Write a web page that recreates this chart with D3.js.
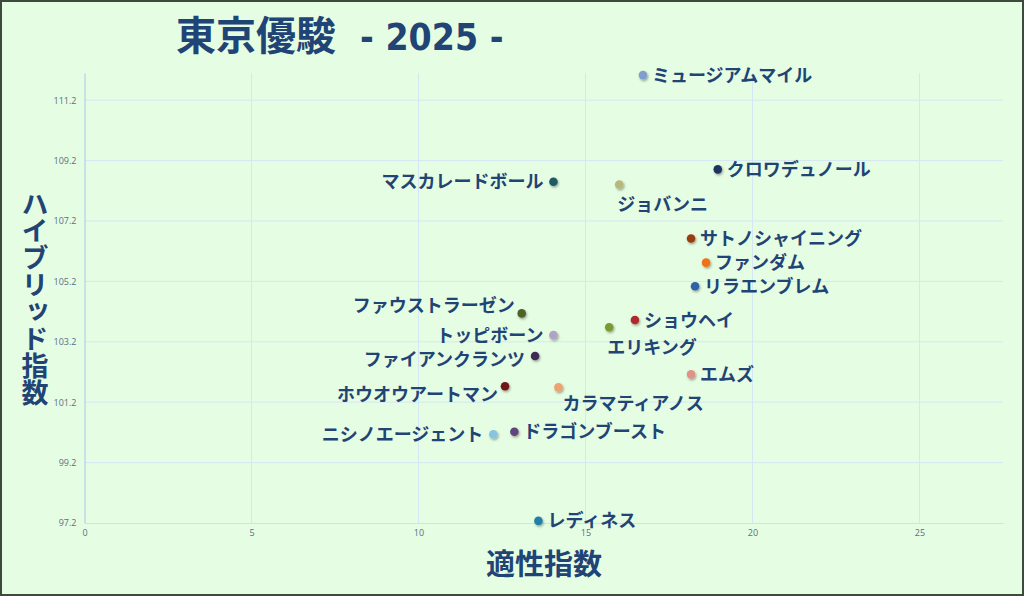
<!DOCTYPE html>
<html>
<head>
<meta charset="utf-8">
<script src="https://cdn.jsdelivr.net/npm/d3@7"></script>
<style>
  html, body { margin: 0; padding: 0; background: #e5fde2; }
  svg { display: block; }
</style>
</head>
<body>
<div id="chart-area"></div>
<script>
const canvas_width = 1024;
const canvas_height = 596;

// data
const horses = ['ミュージアムマイル', 'クロワデュノール', 'ジョバンニ', 'マスカレードボール',
  'サトノシャイニング', 'ファンダム', 'リラエンブレム', 'ショウヘイ', 'エリキング', 'エムズ',
  'ファウストラーゼン', 'トッピボーン', 'ファイアンクランツ', 'ホウオウアートマン',
  'カラマティアノス', 'ニシノエージェント', 'ドラゴンブースト', 'レディネス'];
const tekisei = [16.72, 18.96, 16.01, 14.04, 18.16, 18.61, 18.28, 16.48, 15.71, 18.16,
  13.09, 14.04, 13.49, 12.59, 14.19, 12.24, 12.87, 13.59];
const hybrid = [112.03, 108.91, 108.41, 108.50, 106.62, 105.82, 105.04, 103.92, 103.68, 102.12,
  104.14, 103.42, 102.73, 101.73, 101.69, 100.14, 100.22, 97.27];
const x_ticks = [0, 5, 10, 15, 20, 25];
const y_ticks = [97.2, 99.2, 101.2, 103.2, 105.2, 107.2, 109.2, 111.2];

// styling / label placement
const dot_colors = ['#7f9fcd', '#1f3560', '#b8b77c', '#1d5a66', '#9a3d0c', '#f07212', '#2f62a6',
  '#ae2a2c', '#7b9a33', '#e0918a', '#4f6226', '#b3a1c6', '#3e2a55', '#731717',
  '#eea26f', '#86c4e0', '#5f477c', '#2180a6'];
const label_place = ['right', 'right', 'below', 'left', 'right', 'right', 'right', 'right', 'below', 'right',
  'upleft', 'left', 'leftlow', 'downleft', 'downright', 'left', 'right', 'right'];

const margin = { left: 84.5, right: 21, top: 73, bottom: 73 };
const text_color = '#1f4475';

let canvas = d3.select('#chart-area').append('svg')
  .attr('width', canvas_width)
  .attr('height', canvas_height);

canvas.append('rect')
  .attr('x', 1).attr('y', 1)
  .attr('width', canvas_width - 2).attr('height', canvas_height - 2)
  .attr('fill', '#e5fde2')
  .attr('stroke', '#3f4a3f')
  .attr('stroke-width', 2);

let x = d3.scaleLinear().domain([0, 27.5]).range([margin.left, canvas_width - margin.right]);
let y = d3.scaleLinear().domain([97.2, 112.1]).range([canvas_height - margin.bottom, margin.top]);

let grid = canvas.append('g').attr('class', 'grid');
grid.selectAll('line.h').data(y_ticks.slice(1)).enter().append('line')
  .attr('x1', x(0)).attr('x2', x(27.5))
  .attr('y1', (d) => y(d)).attr('y2', (d) => y(d))
  .attr('stroke', '#d5e6f4').attr('stroke-width', 1);
grid.selectAll('line.v').data(x_ticks.slice(1)).enter().append('line')
  .attr('y1', y(97.2)).attr('y2', y(112.1))
  .attr('x1', (d) => x(d)).attr('x2', (d) => x(d))
  .attr('stroke', '#d5e6f4').attr('stroke-width', 1);

let bottomAxis = d3.axisBottom(x).tickValues(x_ticks).tickSize(0).tickPadding(7);
let bx = canvas.append('g')
  .attr('class', 'bottom axis')
  .attr('transform', `translate(0, ${y(97.2)})`)
  .call(bottomAxis);
bx.select('.domain').attr('stroke', '#cfe0f4');
bx.selectAll('text').attr('fill', '#5b6f86').attr('font-size', '9px').attr('font-family', 'Open Sans, sans-serif');

let leftAxis = d3.axisLeft(y).tickValues(y_ticks).tickSize(0).tickPadding(8).tickFormat(d3.format('.1f'));
let ly = canvas.append('g')
  .attr('class', 'left axis')
  .attr('transform', `translate(${x(0)}, 0)`)
  .call(leftAxis);
ly.select('.domain').attr('stroke', '#a9c6ee');
ly.selectAll('text').attr('fill', '#5b6f86').attr('font-size', '9px').attr('font-family', 'Open Sans, sans-serif');

let defs = canvas.append('defs');
let f = defs.append('filter').attr('id', 'shadow').attr('x', '-50%').attr('y', '-50%').attr('width', '200%').attr('height', '200%');
f.append('feDropShadow').attr('dx', 1).attr('dy', 1.5).attr('stdDeviation', 1.2).attr('flood-color', '#000').attr('flood-opacity', 0.35);

let idx = d3.range(horses.length);

canvas.append('g').selectAll('circle').data(idx).enter().append('circle')
  .attr('cx', (i) => x(tekisei[i]))
  .attr('cy', (i) => y(hybrid[i]))
  .attr('r', 4.3)
  .attr('fill', (i) => dot_colors[i])
  .attr('filter', 'url(#shadow)');

const offsets = {
  right: { dx: 9, dy: 0, anchor: 'start' },
  left: { dx: -10, dy: 0, anchor: 'end' },
  leftlow: { dx: -10, dy: 4, anchor: 'end' },
  below: { dx: -2, dy: 20, anchor: 'start' },
  upleft: { dx: -7, dy: -8, anchor: 'end' },
  downleft: { dx: -7, dy: 8, anchor: 'end' },
  downright: { dx: 4, dy: 16, anchor: 'start' }
};

canvas.append('g').selectAll('text').data(idx).enter().append('text')
  .attr('x', (i) => x(tekisei[i]) + offsets[label_place[i]].dx)
  .attr('y', (i) => y(hybrid[i]) + offsets[label_place[i]].dy)
  .attr('dy', '0.36em')
  .attr('text-anchor', (i) => offsets[label_place[i]].anchor)
  .attr('font-family', 'Noto Sans CJK JP, sans-serif')
  .attr('font-weight', 'bold')
  .attr('font-size', '18px')
  .attr('fill', text_color)
  .text((i) => horses[i]);

let title = canvas.append('text')
  .attr('x', 176)
  .attr('y', 50)
  .attr('fill', text_color)
  .attr('font-weight', 'bold');
title.append('tspan')
  .attr('font-family', 'Noto Sans CJK JP, sans-serif')
  .attr('font-size', '40px')
  .text('東京優駿');
title.append('tspan')
  .attr('font-family', 'DejaVu Sans Condensed, sans-serif')
  .attr('font-size', '37px')
  .attr('dx', 24)
  .text('- 2025 -');

canvas.append('text')
  .attr('x', 544)
  .attr('y', 575)
  .attr('text-anchor', 'middle')
  .attr('font-family', 'Noto Sans CJK JP, sans-serif')
  .attr('font-weight', 'bold')
  .attr('font-size', '29px')
  .attr('fill', text_color)
  .text('適性指数');

canvas.append('text')
  .attr('x', 35)
  .attr('y', 298)
  .attr('text-anchor', 'middle')
  .attr('writing-mode', 'vertical-rl')
  .attr('font-family', 'Noto Sans CJK JP, sans-serif')
  .attr('font-weight', 'bold')
  .attr('font-size', '27px')
  .attr('fill', text_color)
  .text('ハイブリッド指数');
</script>
</body>
</html>
